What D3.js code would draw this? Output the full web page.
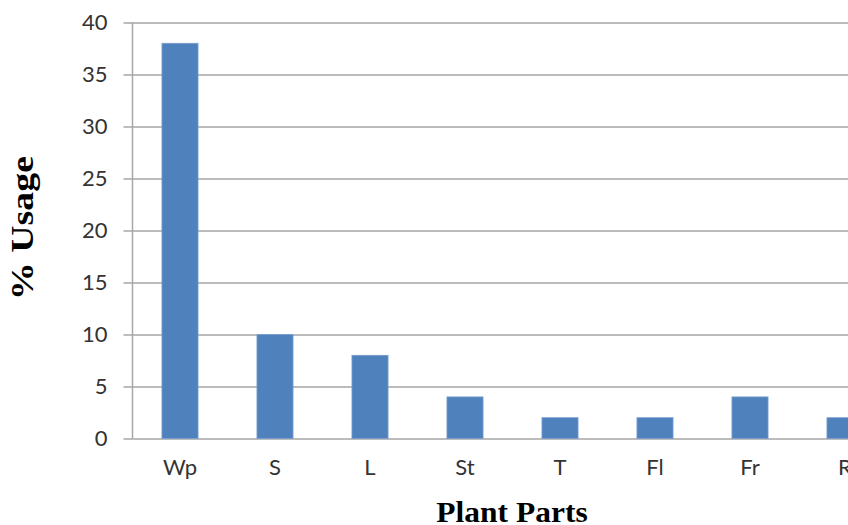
<!DOCTYPE html>
<html>
<head>
<meta charset="utf-8">
<script src="https://cdn.jsdelivr.net/npm/d3@7"></script>
<style>
  body { margin: 0; background: #fff; }
  svg { display: block; }
</style>
</head>
<body>
<svg id="chart"></svg>
<script>
// plant part codes and % usage
var parts = ["Wp", "S", "L", "St", "T", "Fl", "Fr", "R"];
var usage = [38, 10, 8, 4, 2, 2, 4, 2];
var yTicks = [0, 5, 10, 15, 20, 25, 30, 35, 40];

var data = parts.map(function (p, i) { return { part: p, value: usage[i] }; });

drawChart(data);

function drawChart(data) {
    var svgWidth = 848, svgHeight = 525;

    var svg = d3.select("#chart")
        .attr("width", svgWidth)
        .attr("height", svgHeight);

    // plot area runs past the right edge (chart is cropped)
    var x = d3.scaleBand()
        .domain(parts)
        .range([132.5, 892.5])
        .paddingInner(0.62)
        .paddingOuter(0.31);

    var y = d3.scaleLinear()
        .domain([0, 40])
        .range([438.5, 22.5]);

    // gridlines + y axis
    var yAxis = svg.append("g")
        .attr("transform", "translate(132.5,0)")
        .call(d3.axisLeft(y).tickValues(yTicks).tickSize(9).tickPadding(16).tickFormat(d3.format("d")));

    yAxis.select(".domain").remove();
    yAxis.selectAll(".tick line")
        .attr("stroke", "#a6a6a6")
        .attr("stroke-width", 1.5)
        .attr("x1", -9)
        .attr("x2", svgWidth);
    yAxis.selectAll(".tick text")
        .attr("fill", "#333")
        .style("font-family", "Lato, 'Open Sans', sans-serif")
        .style("font-size", "22px");

    // vertical axis line
    svg.append("line")
        .attr("x1", 132.5).attr("x2", 132.5)
        .attr("y1", y(40)).attr("y2", y(0))
        .attr("stroke", "#a6a6a6")
        .attr("stroke-width", 1.5);

    // bars
    svg.append("g")
        .selectAll("rect")
        .data(data)
        .enter().append("rect")
        .attr("x", function (d) { return x(d.part); })
        .attr("y", function (d) { return y(d.value); })
        .attr("width", x.bandwidth())
        .attr("height", function (d) { return y(0) - y(d.value); })
        .attr("fill", "#4f81bd")
        .attr("stroke", "#7a9fd0")
        .attr("stroke-width", 0.8);

    // x axis labels
    var xAxis = svg.append("g")
        .attr("transform", "translate(0," + y(0) + ")")
        .call(d3.axisBottom(x).tickSize(0).tickPadding(21));
    xAxis.select(".domain").remove();
    xAxis.selectAll(".tick text")
        .attr("fill", "#333")
        .style("font-family", "Lato, 'Open Sans', sans-serif")
        .style("font-size", "22px");

    // axis titles (stretched wide like the original)
    svg.append("text")
        .attr("transform", "translate(33,228) rotate(-90) scale(1.22,1)")
        .attr("text-anchor", "middle")
        .style("font-family", "'Liberation Serif', 'Times New Roman', serif")
        .style("font-weight", "bold")
        .style("font-size", "31px")
        .text("% Usage");

    svg.append("text")
        .attr("transform", "translate(512,522) scale(1.05,1)")
        .attr("text-anchor", "middle")
        .style("font-family", "'Liberation Serif', 'Times New Roman', serif")
        .style("font-weight", "bold")
        .style("font-size", "30px")
        .text("Plant Parts");
}
</script>
</body>
</html>
